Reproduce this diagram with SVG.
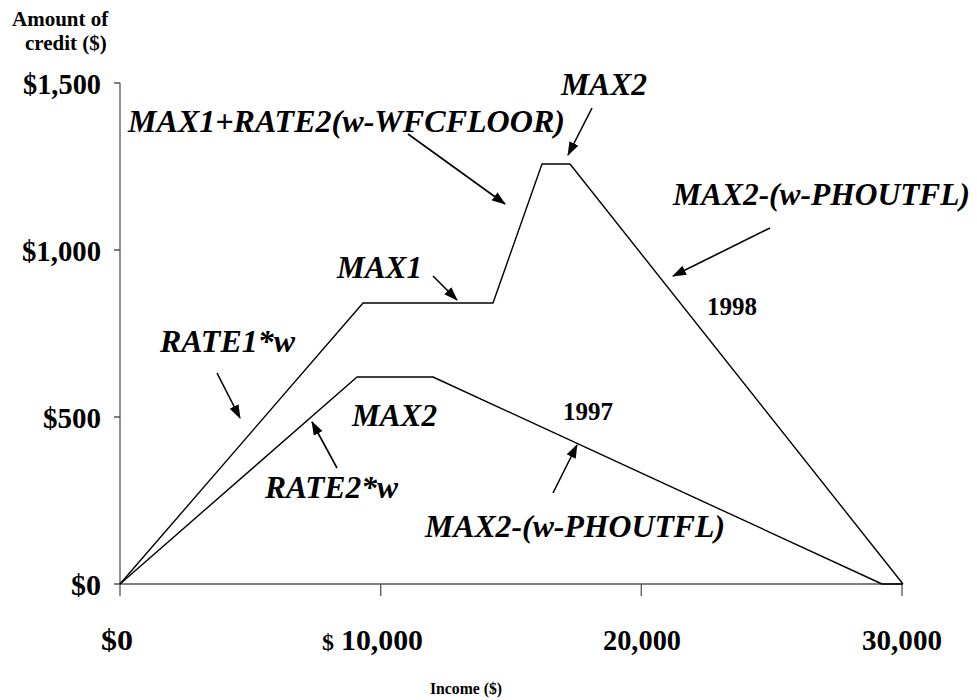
<svg xmlns="http://www.w3.org/2000/svg" width="977" height="700" viewBox="0 0 977 700">
<defs>
<marker id="ah" viewBox="0 0 14 10" refX="13" refY="5" markerWidth="14" markerHeight="10" markerUnits="userSpaceOnUse" orient="auto"><path d="M0,0 L14,5 L0,10 z" fill="#000"/></marker>
</defs>
<style>
.lbl{font-family:"Liberation Serif","Times New Roman",serif;font-weight:bold;fill:#000}
.ann{font-family:"Liberation Serif","Times New Roman",serif;font-weight:bold;font-style:italic;font-size:32px;fill:#000}
.tk{font-size:30px}
.axis{stroke:#555;stroke-width:1.3;fill:none}
.curve{stroke:#000;stroke-width:1.4;fill:none;stroke-linejoin:round}
.arr{stroke:#000;stroke-width:1.6;fill:none;marker-end:url(#ah)}
</style>
<rect width="977" height="700" fill="#fff"/>
<g id="axes">
<path class="axis" d="M120,83 V584 H903 M114,83 H120 M114,250 H120 M114,417 H120 M114,584 H120 M120,584 V596 M380.7,584 V596 M641.3,584 V596 M902,584 V596"/>
<text class="lbl" x="12" y="26" font-size="21">Amount of</text>
<text class="lbl" x="25" y="50" font-size="21">credit ($)</text>
<text class="lbl tk" x="23" y="94" textLength="78" lengthAdjust="spacingAndGlyphs">$1,500</text>
<text class="lbl tk" x="22" y="261" textLength="79" lengthAdjust="spacingAndGlyphs">$1,000</text>
<text class="lbl tk" x="43" y="428" textLength="58" lengthAdjust="spacingAndGlyphs">$500</text>
<text class="lbl tk" x="71" y="595" textLength="30" lengthAdjust="spacingAndGlyphs">$0</text>
<text class="lbl tk" x="101" y="650" textLength="32" lengthAdjust="spacingAndGlyphs">$0</text>
<text class="lbl" x="322" y="650" font-size="24">$</text>
<text class="lbl tk" x="341" y="650" textLength="82" lengthAdjust="spacingAndGlyphs">10,000</text>
<text class="lbl tk" x="603" y="650" textLength="78" lengthAdjust="spacingAndGlyphs">20,000</text>
<text class="lbl tk" x="862" y="650" textLength="80" lengthAdjust="spacingAndGlyphs">30,000</text>
<text class="lbl" x="430" y="694" font-size="17" textLength="72" lengthAdjust="spacingAndGlyphs">Income ($)</text>
</g>
<g id="curve-1998"><path class="curve" d="M120,584 L363,303 L493,303 L542,164 L570,164 L903,584"/></g>
<g id="curve-1997"><path class="curve" d="M120,584 L357,377 L433,377 L882,584 L903,584"/></g>
<g id="label-max2-top"><text class="ann" x="561" y="95" textLength="86" lengthAdjust="spacingAndGlyphs">MAX2</text></g>
<g id="label-wfcfloor"><text class="ann" x="128" y="132" textLength="437" lengthAdjust="spacingAndGlyphs">MAX1+RATE2(w-WFCFLOOR)</text></g>
<g id="label-phoutfl-1998"><text class="ann" x="673" y="205" textLength="297" lengthAdjust="spacingAndGlyphs">MAX2-(w-PHOUTFL)</text></g>
<g id="label-1998"><text class="lbl" x="707" y="315" font-size="25">1998</text></g>
<g id="label-max1"><text class="ann" x="337" y="278" textLength="85" lengthAdjust="spacingAndGlyphs">MAX1</text></g>
<g id="label-rate1"><text class="ann" x="160" y="352" textLength="135" lengthAdjust="spacingAndGlyphs">RATE1*w</text></g>
<g id="label-max2-low"><text class="ann" x="352" y="426" textLength="85" lengthAdjust="spacingAndGlyphs">MAX2</text></g>
<g id="label-rate2"><text class="ann" x="265" y="498" textLength="133" lengthAdjust="spacingAndGlyphs">RATE2*w</text></g>
<g id="label-1997"><text class="lbl" x="563" y="420" font-size="25">1997</text></g>
<g id="label-phoutfl-1997"><text class="ann" x="425" y="537" textLength="300" lengthAdjust="spacingAndGlyphs">MAX2-(w-PHOUTFL)</text></g>
<g id="connectors">
<line class="arr" x1="592" y1="108" x2="568" y2="155"/>
<line class="arr" x1="408" y1="134" x2="505" y2="204"/>
<line class="arr" x1="770" y1="228" x2="673" y2="276"/>
<line class="arr" x1="433" y1="276" x2="457" y2="300"/>
<line class="arr" x1="217" y1="373" x2="240" y2="418"/>
<line class="arr" x1="337" y1="468" x2="312" y2="422"/>
<line class="arr" x1="553" y1="493" x2="577" y2="445"/>
</g>
</svg>
